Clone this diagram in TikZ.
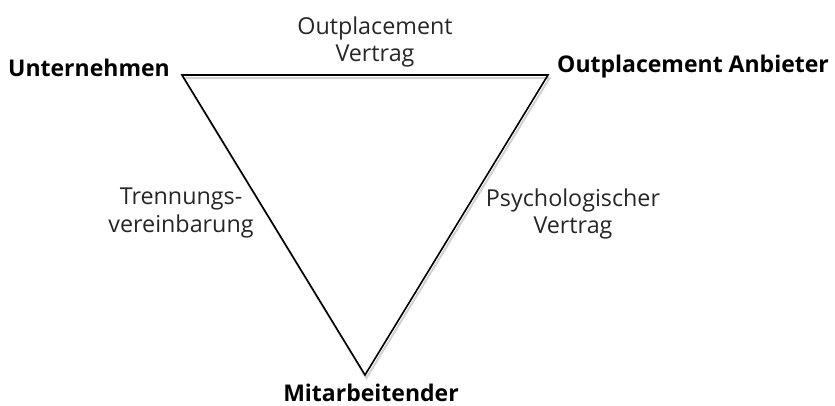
\documentclass[tikz,border=0pt]{standalone}
\usepackage{fontspec}
\setmainfont{Open Sans}
\begin{document}
\begin{tikzpicture}[x=1pt,y=-1pt,
        vertex/.style={inner sep=0pt,font=\fontsize{23}{28}\selectfont\bfseries},
        contract/.style={inner sep=0pt,align=center,text=black!85,font=\fontsize{23.3}{27.5}\selectfont}]
        \useasboundingbox (0,0) rectangle (835,405);
        \coordinate (unt) at (182,75);
        \coordinate (anb) at (548,75);
        \coordinate (mit) at (365,375);
        \draw [black!18,line width=2pt,transform canvas={shift={(1.5pt,-3pt)}}] (unt) -- (anb) -- (mit) -- cycle;
        \draw [line width=1.6pt] (unt) -- (anb) -- (mit) -- cycle;
        \node (unternehmen) [vertex,anchor=base east] at (170,76) {Unternehmen};
        \node (anbieter) [vertex,anchor=base west] at (557,72) {Outplacement Anbieter};
        \node (mitarbeiter) [vertex,anchor=base] at (371,401) {Mitarbeitender};
        \node (vertrag) [contract] at (375,42) {Outplacement\\Vertrag};
        \node (trennung) [contract] at (181,213) {Trennungs-\\vereinbarung};
        \node (psycho) [contract] at (573,214) {Psychologischer\\Vertrag};
    \end{tikzpicture}
\end{document}
